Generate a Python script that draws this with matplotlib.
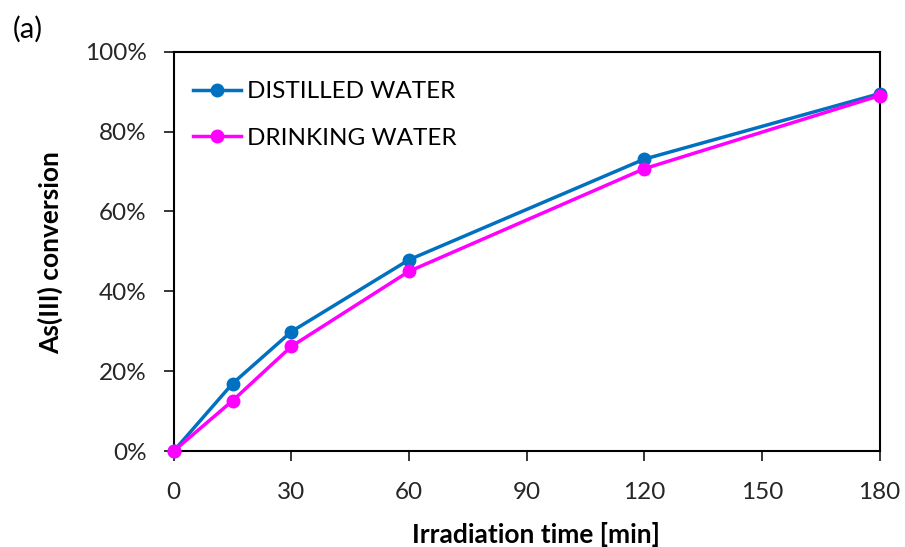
import matplotlib
matplotlib.use("Agg")
import matplotlib.pyplot as plt
from matplotlib.ticker import FuncFormatter

plt.rcParams['font.family'] = ['Lato', 'DejaVu Sans']

time_min = [0, 15, 30, 60, 120, 180]
distilled = [0, 16.9, 29.9, 47.9, 73.1, 89.5]
drinking = [0, 12.6, 26.2, 45.0, 70.7, 89.0]
x_ticks = [0, 30, 60, 90, 120, 150, 180]
y_ticks = [0, 20, 40, 60, 80, 100]

fig = plt.figure(figsize=(9.05, 5.47), dpi=100)
ax = fig.add_axes([0.192, 0.1755, 0.780, 0.730])

ax.plot(time_min, distilled, color='#0070C0', lw=2.5, marker='o', ms=9,
        label='DISTILLED WATER', zorder=3, clip_on=False)
ax.plot(time_min, drinking, color='#FF00FF', lw=2.5, marker='o', ms=9,
        label='DRINKING WATER', zorder=4, clip_on=False)

ax.set_xlim(0, 180)
ax.set_ylim(0, 100)
ax.set_xticks(x_ticks)
ax.set_yticks(y_ticks)
ax.yaxis.set_major_formatter(FuncFormatter(lambda v, p: f"{int(v)}%"))
ax.tick_params(axis='both', labelsize=17.5, direction='out', length=7, width=1.3,
               colors='#262626')
ax.tick_params(axis='x', pad=15)
ax.tick_params(axis='y', pad=12.5)
for s in ax.spines.values():
    s.set_linewidth(1.5)
    s.set_color('black')

ax.set_xlabel('Irradiation time [min]', fontsize=19, fontweight='bold', va='center')
ax.xaxis.set_label_coords(0.513, -0.21)
ax.set_ylabel('As(III) conversion', fontsize=19, fontweight='bold', va='center',
              ha='center')
ax.yaxis.set_label_coords(-0.174, 0.497)

leg = ax.legend(loc='upper left', bbox_to_anchor=(0.013, 0.95), borderaxespad=0,
                frameon=False, fontsize=17.5, handlelength=2.0,
                labelspacing=1.05, handletextpad=0.25)

fig.text(0.014, 0.947, '(a)', fontsize=21, va='center')

fig.savefig('out.png', dpi=100)
